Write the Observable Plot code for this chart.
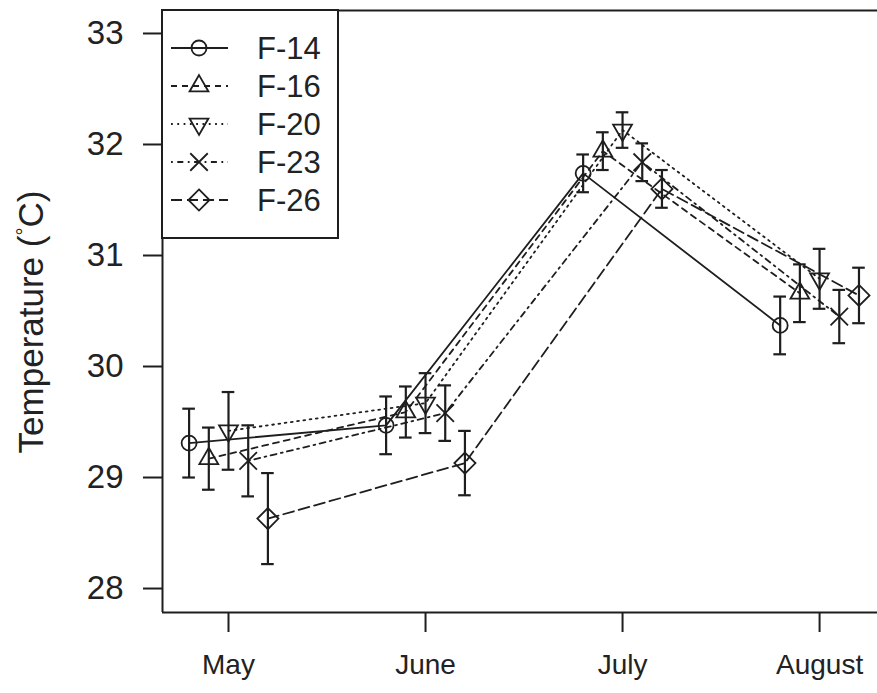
<!DOCTYPE html>
<html><head><meta charset="utf-8">
<script src="https://cdn.jsdelivr.net/npm/d3@7"></script>
<script src="https://cdn.jsdelivr.net/npm/@observablehq/plot@0.6"></script>
<style>
body{margin:0;background:#fff;font-family:"Liberation Sans",Arial,sans-serif}
#chart{width:877px;height:693px;overflow:hidden}
</style>
</head><body><div id="chart"></div>
<script>
// ---- data ----
const months = ["May", "June", "July", "August"];
const monthIndex = [0, 1, 2, 3];
const series = ["F-14", "F-16", "F-20", "F-23", "F-26"];
const offsets = [-0.2, -0.1, 0, 0.1, 0.2];
const f14 = [29.31, 29.47, 31.74, 30.37];
const f14Err = [0.31, 0.26, 0.17, 0.26];
const f16 = [29.17, 29.59, 31.94, 30.66];
const f16Err = [0.28, 0.23, 0.17, 0.26];
const f20 = [29.42, 29.67, 32.13, 30.79];
const f20Err = [0.35, 0.27, 0.16, 0.27];
const f23 = [29.15, 29.58, 31.84, 30.45];
const f23Err = [0.32, 0.25, 0.17, 0.24];
const f26 = [28.63, 29.13, 31.60, 30.64];
const f26Err = [0.41, 0.29, 0.17, 0.25];
const yTicks = [28, 29, 30, 31, 32, 33];

const values = [f14, f16, f20, f23, f26];
const errors = [f14Err, f16Err, f20Err, f23Err, f26Err];

// ---- styles ----
const ink = "#1e1e1e";
const dashes = [null, "6,5", "1.8,4.5", "1.8,4.5,6,4.5", "11,5"];
const invTriangle = {
  draw(ctx, size) {
    const y = Math.sqrt(size / (3 * Math.sqrt(3)));
    ctx.moveTo(0, 2 * y);
    ctx.lineTo(-Math.sqrt(3) * y, -y);
    ctx.lineTo(Math.sqrt(3) * y, -y);
    ctx.closePath();
  }
};
const symbols = ["circle", "triangle", invTriangle, "times", "diamond2"];
const radii = [7.5, 7, 7, 8, 9.5];

const rows = [];
series.forEach((s, si) => {
  monthIndex.forEach((m, mi) => {
    rows.push({series: s, si, x: m + offsets[si], y: values[si][mi],
      lo: values[si][mi] - errors[si][mi], hi: values[si][mi] + errors[si][mi]});
  });
});

const xDomain = [-0.335, 3.294];
const yDomain = [27.784, 33.207];
const capHalf = 0.032;

const marks = [
  Plot.ruleX([xDomain[0]], {stroke: ink, strokeWidth: 2}),
  Plot.ruleY([yDomain[0]], {stroke: ink, strokeWidth: 2}),
  Plot.ruleY([yDomain[1]], {stroke: ink, strokeWidth: 2}),
  Plot.axisY({ticks: yTicks, tickFormat: d => String(d), tickSize: 19, tickPadding: 20, fontSize: 33, label: null, stroke: ink, strokeWidth: 2}),
  Plot.axisX({ticks: monthIndex, tickFormat: i => months[i], tickSize: 20, tickPadding: 22, fontSize: 28, label: null, stroke: ink, strokeWidth: 2})
];
series.forEach((s, si) => {
  const d = rows.filter(r => r.si === si);
  marks.push(Plot.line(d, {x: "x", y: "y", stroke: ink, strokeWidth: 1.8, strokeDasharray: dashes[si]}));
  marks.push(Plot.ruleX(d, {x: "x", y1: "lo", y2: "hi", stroke: ink, strokeWidth: 2.2}));
  marks.push(Plot.ruleY(d, {y: "hi", x1: r => r.x - capHalf, x2: r => r.x + capHalf, stroke: ink, strokeWidth: 2.2}));
  marks.push(Plot.ruleY(d, {y: "lo", x1: r => r.x - capHalf, x2: r => r.x + capHalf, stroke: ink, strokeWidth: 2.2}));
  marks.push(Plot.dot(d, {x: "x", y: "y", symbol: symbols[si], r: radii[si], stroke: ink, strokeWidth: 1.8, fill: "none"}));
});

const chart = Plot.plot({
  width: 877, height: 693,
  marginLeft: 162, marginRight: 0, marginTop: 10, marginBottom: 81,
  style: {fontFamily: "'Liberation Sans', Arial, sans-serif", color: "#222", background: "#fff"},
  x: {domain: xDomain, axis: null},
  y: {domain: yDomain, axis: null},
  marks
});
document.getElementById("chart").appendChild(chart);

// ---- y-axis title ----
const svg = d3.select(chart);
const title = svg.append("text")
  .attr("transform", "translate(43,322) rotate(-90)")
  .attr("text-anchor", "middle")
  .attr("font-size", 35)
  .attr("fill", "#222")
  .attr("font-family", "'Liberation Sans', Arial, sans-serif");
title.append("tspan").text("Temperature (");
title.append("tspan").attr("font-size", 20).attr("dy", -12).text("°");
title.append("tspan").attr("dy", 12).text("C)");

// ---- legend ----
const lg = svg.append("g");
lg.append("rect").attr("x", 162).attr("y", 10).attr("width", 176).attr("height", 228)
  .attr("fill", "#fff").attr("stroke", ink).attr("stroke-width", 2);
series.forEach((s, si) => {
  const cy = 48 + si * 38;
  lg.append("line").attr("x1", 171).attr("x2", 228).attr("y1", cy).attr("y2", cy)
    .attr("stroke", ink).attr("stroke-width", 1.8).attr("stroke-dasharray", dashes[si]);
  const sym = typeof symbols[si] === "string"
    ? {circle: d3.symbolCircle, triangle: d3.symbolTriangle, times: d3.symbolTimes, diamond2: d3.symbolDiamond2}[symbols[si]]
    : symbols[si];
  lg.append("path").attr("d", d3.symbol(sym, Math.PI * radii[si] * radii[si])())
    .attr("transform", `translate(199,${cy})`)
    .attr("fill", "none").attr("stroke", ink).attr("stroke-width", 1.8);
  lg.append("text").attr("x", 257).attr("y", cy).attr("dy", "0.36em")
    .attr("text-anchor", "start")
    .attr("font-size", 31).attr("fill", "#222")
    .attr("font-family", "'Liberation Sans', Arial, sans-serif").text(s);
});
</script>
</body></html>
